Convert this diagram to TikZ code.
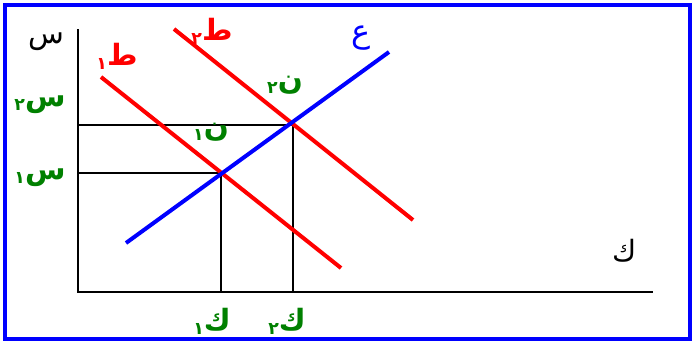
\documentclass[tikz,border=0pt]{standalone}
\usepackage{fontspec}
\newfontfamily\arabicfont[Script=Arabic]{DejaVu Sans}
\TeXXeTstate=1
\definecolor{grn}{RGB}{0,128,0}
\definecolor{rd}{RGB}{255,0,0}
\definecolor{bl}{RGB}{0,0,255}
\newcommand{\dg}[1]{\raisebox{-3pt}{\fontsize{13}{14}\selectfont #1}}
\tikzset{
  lbl/.style={inner sep=0pt, font=\arabicfont\fontsize{22}{24}\selectfont\bfseries},
  axlbl/.style={inner sep=0pt, font=\arabicfont\fontsize{22}{24}\selectfont},
  curve/.style={line width=3pt},
  axisline/.style={line width=2.2pt, black},
  guide/.style={line width=1pt, black}
}
\begin{document}
\begin{tikzpicture}[x=0.75pt,y=-0.75pt]
\useasboundingbox (0,0) rectangle (695,343);
\draw[bl, line width=3pt] (5,5) rectangle (690,339);
% coordinates
\coordinate (O) at (78,292);
\coordinate (Ytop) at (78,29);
\coordinate (Xend) at (653,292);
\coordinate (E1) at (221,173);
\coordinate (E2) at (293,125);
\coordinate (Y1) at (78,173);
\coordinate (Y2) at (78,125);
\coordinate (X1) at (221,292);
\coordinate (X2) at (293,292);
\coordinate (D1a) at (101,77);
\coordinate (D1b) at (341,268);
\coordinate (D2a) at (174,29);
\coordinate (D2b) at (413,220);
\coordinate (Sa) at (126,243);
\coordinate (Sb) at (389,52);
% guides
\draw[guide] (Y2) -- (E2) -- (X2);
\draw[guide] (Y1) -- (E1) -- (X1);
% axes
\draw[axisline] (Ytop) -- (O) -- (Xend);
% curves
\draw[curve, rd] (D1a) -- (D1b);
\draw[curve, rd] (D2a) -- (D2b);
\draw[curve, bl] (Sa) -- (Sb);
% labels
\node[axlbl] (ls) at (46,42) {\beginR س\endR};
\node[axlbl] (lk) at (625,251) {\beginR ك\endR};
\node[lbl, rd] (ld1) at (117,56) {\beginR ط\dg{١}\endR};
\node[lbl, rd] (ld2) at (212,31) {\beginR ط\dg{٢}\endR};
\node[lbl, bl, font=\arabicfont\fontsize{24}{26}\selectfont] (ls0) at (361,38) {\beginR ع\endR};
\node[lbl, grn] (ln2) at (285,85) {\beginR ن\dg{٢}\endR};
\node[lbl, grn] (ln1) at (211,132) {\beginR ن\dg{١}\endR};
\node[lbl, grn] (ly2) at (40,105) {\beginR س\dg{٢}\endR};
\node[lbl, grn] (ly1) at (40,178) {\beginR س\dg{١}\endR};
\node[lbl, grn] (lx1) at (212,321) {\beginR ك\dg{١}\endR};
\node[lbl, grn] (lx2) at (287,321) {\beginR ك\dg{٢}\endR};
\end{tikzpicture}
\end{document}
